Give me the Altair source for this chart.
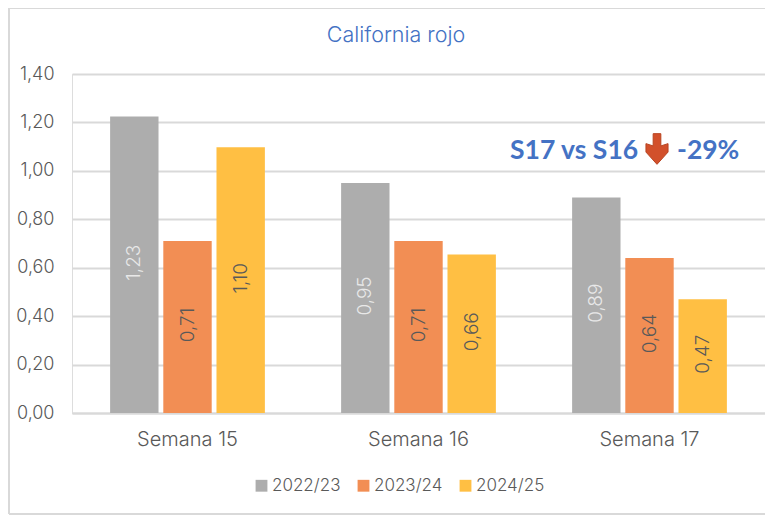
import altair as alt
import pandas as pd

weeks = ["Semana 15", "Semana 16", "Semana 17"]
seasons = ["2022/23", "2023/24", "2024/25"]
colors = ["#ADADAD", "#F28E54", "#FFBF43"]
label_colors = ["#E8E8E8", "#595959", "#595959"]
values = {
    "2022/23": [1.225, 0.95, 0.89],
    "2023/24": [0.71, 0.71, 0.64],
    "2024/25": [1.097, 0.655, 0.47],
}
labels = {
    "2022/23": ["1,23", "0,95", "0,89"],
    "2023/24": ["0,71", "0,71", "0,64"],
    "2024/25": ["1,10", "0,66", "0,47"],
}
FONT = "Inter"
BOLD = "Lato"
GREY = "#595959"
BLUE = "#4472C4"
W, H = 693, 339
PL, PT = 64, 66
FS = 18

rows = []
for s, lc in zip(seasons, label_colors):
    for w, v, l in zip(weeks, values[s], labels[s]):
        rows.append({"week": w, "season": s, "value": v, "label": l, "mid": v / 2, "lc": lc})
df = pd.DataFrame(rows)

x = alt.X("week:N", sort=weeks, title=None,
          scale=alt.Scale(paddingInner=0.33, paddingOuter=0.165),
          axis=alt.Axis(labelAngle=0, labelFont=FONT, labelFontSize=20, labelFontWeight=300, labelColor=GREY,
                        labelPadding=16, ticks=False, domainColor="#D9D9D9", domainWidth=2, grid=False))
xo = alt.XOffset("season:N", sort=seasons, scale=alt.Scale(paddingInner=0.09, paddingOuter=0))
yscale = alt.Scale(domain=[0, 1.4], nice=False)

bars = alt.Chart(df).mark_bar().encode(
    x=x, xOffset=xo,
    y=alt.Y("value:Q", scale=yscale, title=None,
            axis=alt.Axis(values=[0, .2, .4, .6, .8, 1, 1.2, 1.4],
                          labelExpr="replace(format(datum.value,'.2f'),'.',',')",
                          labelFont=FONT, labelFontSize=FS, labelFontWeight=300, labelColor=GREY, labelPadding=18,
                          ticks=False, domain=False, gridColor="#D9D9D9", gridWidth=2)),
    color=alt.Color("season:N", sort=seasons, scale=alt.Scale(domain=seasons, range=colors),
                    legend=alt.Legend(title=None, orient="none", legendX=181, legendY=403,
                                      direction="horizontal", symbolType="square", symbolSize=140,
                                      symbolStrokeWidth=0, labelFont=FONT, labelFontSize=17, labelFontWeight=300,
                                      labelColor=GREY, columnPadding=14, labelOffset=2)),
)

text = alt.Chart(df).mark_text(angle=270, font=FONT, fontSize=19, fontWeight=300, baseline="middle", align="center", dx=2).encode(
    x=x, xOffset=xo,
    y=alt.Y("mid:Q", scale=yscale),
    text="label:N",
    color=alt.Color("lc:N", scale=None),
)

note_left = alt.Chart(pd.DataFrame({"t": ["S17 vs S16"]})).mark_text(
    font=BOLD, fontSize=26.5, fontWeight="bold", color=BLUE, align="left", baseline="middle"
).encode(text="t:N", x=alt.value(510 - 72), y=alt.value(151 - 74))
note_right = alt.Chart(pd.DataFrame({"t": ["-29%"]})).mark_text(
    font=BOLD, fontSize=26.5, fontWeight="bold", color=BLUE, align="left", baseline="middle"
).encode(text="t:N", x=alt.value(677 - 72), y=alt.value(151 - 74))
arrow_path = "M-0.25,-1 L0.25,-1 L0.25,-0.2 L0.72,-0.35 L0.72,0.2 L0,1 L-0.72,0.2 L-0.72,-0.35 L-0.25,-0.2 Z"
arrow = alt.Chart(pd.DataFrame({"a": [1]})).mark_point(
    shape=arrow_path, filled=True, fill="#D2502B", stroke="#B8431F", strokeWidth=1, opacity=1, size=940
).encode(x=alt.value(657 - 72), y=alt.value(149 - 74))

title = alt.Chart(pd.DataFrame({"t": ["California rojo"]})).mark_text(
    font=FONT, fontSize=21.5, fontWeight=300, color=BLUE, align="center", baseline="middle"
).encode(text="t:N", x=alt.value(396 - 72), y=alt.value(36 - 74))

frame_c = "#D9D9D9"
def rule(**kw):
    return alt.Chart(pd.DataFrame({"a": [1]})).mark_rule(color=frame_c, strokeWidth=2, clip=False).encode(**kw)
frame = [
    rule(x=alt.value(-63), x2=alt.value(693), y=alt.value(-66)),
    rule(x=alt.value(-63), x2=alt.value(693), y=alt.value(514 - 74)),
    rule(x=alt.value(-63), y=alt.value(-66), y2=alt.value(440)),
]

chart = alt.layer(bars, text, *frame, title, note_left, arrow, note_right).properties(
    width=W, height=H,
    padding={"left": PL, "top": PT, "right": 0, "bottom": 102},
    autosize=alt.AutoSizeParams(type="none"),
).configure_view(stroke=None).configure(background="white")

chart.save("out.html", embed_options={"renderer": "svg", "actions": False})
